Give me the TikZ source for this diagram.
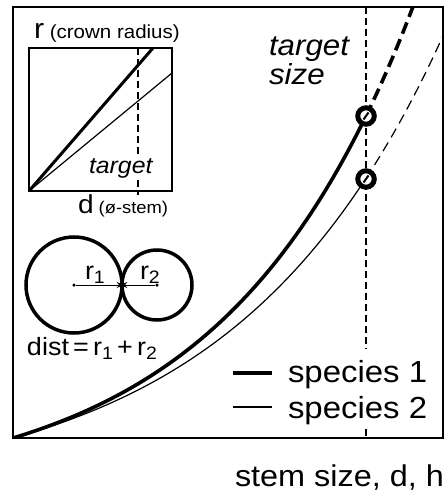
\documentclass[tikz,border=0pt]{standalone}
\usepackage{fontspec}
\setmainfont{Liberation Sans}[FakeStretch=1.08]
\usetikzlibrary{arrows.meta}
\newcommand\myfs[1]{\fontsize{#1}{#1}\selectfont}
\newcommand\mysub[1]{\raisebox{-0.35ex}{\myfs{18}#1}}
\begin{document}
\begin{tikzpicture}[x=1pt,y=-1pt,
  txt/.style={anchor=base west,inner sep=0pt,outer sep=0pt},
  frame/.style={line width=2.2pt},
  inframe/.style={line width=1.2pt},
  heavy/.style={line width=3.6pt},
  light/.style={line width=1.2pt},
  heavydash/.style={line width=3.6pt,dash pattern=on 12pt off 6pt},
  lightdash/.style={line width=1.2pt,dash pattern=on 10pt off 6pt},
  vdash/.style={line width=1.2pt,dash pattern=on 7pt off 4pt},
  marker/.style={circle,draw,fill=white,line width=5pt,minimum size=16.5pt,inner sep=0pt},
  crown/.style={circle,draw,line width=3.5pt,inner sep=0pt},
  arr/.style={line width=1pt,-{Stealth[length=7pt,width=6pt]}},
  dot/.style={circle,fill,inner sep=0pt,minimum size=3.5pt}]
\useasboundingbox (0,0) rectangle (447,492);

% main frame
\coordinate (bl) at (13,438);
\coordinate (tr) at (443,7);
\draw[frame] (bl) rectangle (tr);

% curves
\begin{scope}
\clip (13,7) rectangle (443,438);
\draw[heavy] plot[domain=0:353,samples=120,variable=\t] ({13+\t},{438-56.2*(exp(0.0054*\t)-1)});
\draw[heavydash] plot[domain=353:402,samples=30,variable=\t] ({13+\t},{438-56.2*(exp(0.0054*\t)-1)});
\draw[light] plot[domain=0:353,samples=120,variable=\t] ({13+\t},{438-58.3*(exp(0.0048*\t)-1)});
\draw[lightdash] plot[domain=353:432,samples=30,variable=\t] ({13+\t},{438-58.3*(exp(0.0048*\t)-1)});
\end{scope}

% target line (interrupted by the legend)
\coordinate (vt) at (366,7);
\coordinate (vm1) at (366,349);
\coordinate (vm2) at (366,429);
\coordinate (vb) at (366,438);
\draw[vdash] (vt) -- (vm1);
\draw[vdash] (vm2) -- (vb);

% markers
\node[marker] (m1) at (366,116) {};
\node[marker] (m2) at (366,179) {};
\draw[line width=2pt] ([shift={(-2.5,3.5)}]m1.center) -- ([shift={(2.5,-3.5)}]m1.center);
\draw[line width=2pt] ([shift={(-2.5,3.5)}]m2.center) -- ([shift={(2.5,-3.5)}]m2.center);

% target size
\node[txt,font=\itshape\myfs{29}] (ts1) at (269,56) {target};
\node[txt,font=\itshape\myfs{29}] (ts2) at (269,85) {size};

% inset
\coordinate (ibl) at (29,191);
\coordinate (itr) at (172,48);
\coordinate (ithick) at (153,48);
\coordinate (ithin) at (172,73);
\coordinate (idt) at (138,48);
\coordinate (idb) at (138,195);
\draw[inframe] (ibl) rectangle (itr);
\draw[vdash] (idt) -- (idb);
\draw[line width=3pt] (ibl) -- (ithick);
\draw[light] (ibl) -- (ithin);
\node[txt] (rl) at (34,39) {\myfs{28}r\myfs{19} (crown radius)};
\node[txt] (dl) at (78,213) {\myfs{26}d\myfs{17} (ø-stem)};
\node[txt,font=\itshape\myfs{23},fill=white,inner xsep=1pt,inner ysep=2pt] (it) at (88,173) {target};

% crowns
\node[crown,minimum size=96pt] (c1) at (74,285) {};
\node[crown,minimum size=70pt] (c2) at (157,285) {};
\node[dot] (d1) at (c1.center) {};
\node[dot] (d2) at (c2.center) {};
\draw[arr] (d1) -- (c1.east);
\draw[arr] (d2) -- (c2.west);
\node[txt] (r1) at (85,279) {\myfs{25}r\mysub{1}};
\node[txt] (r2) at (140,279) {\myfs{25}r\mysub{2}};
\node[txt] (dist) at (27,355) {\myfs{25}dist\,=\,r\mysub{1}\,+\,r\mysub{2}};

% legend
\coordinate (l1a) at (233,373);
\coordinate (l1b) at (272,373);
\coordinate (l2a) at (233,407);
\coordinate (l2b) at (272,407);
\draw[heavy] (l1a) -- (l1b);
\draw[light] (l2a) -- (l2b);
\node[txt] (sp1) at (288,382) {\myfs{30.5}species 1};
\node[txt] (sp2) at (288,418) {\myfs{30.5}species 2};

% axis label
\node[txt] (xl) at (235,486) {\myfs{30}stem size, d, h};
\end{tikzpicture}
\end{document}
